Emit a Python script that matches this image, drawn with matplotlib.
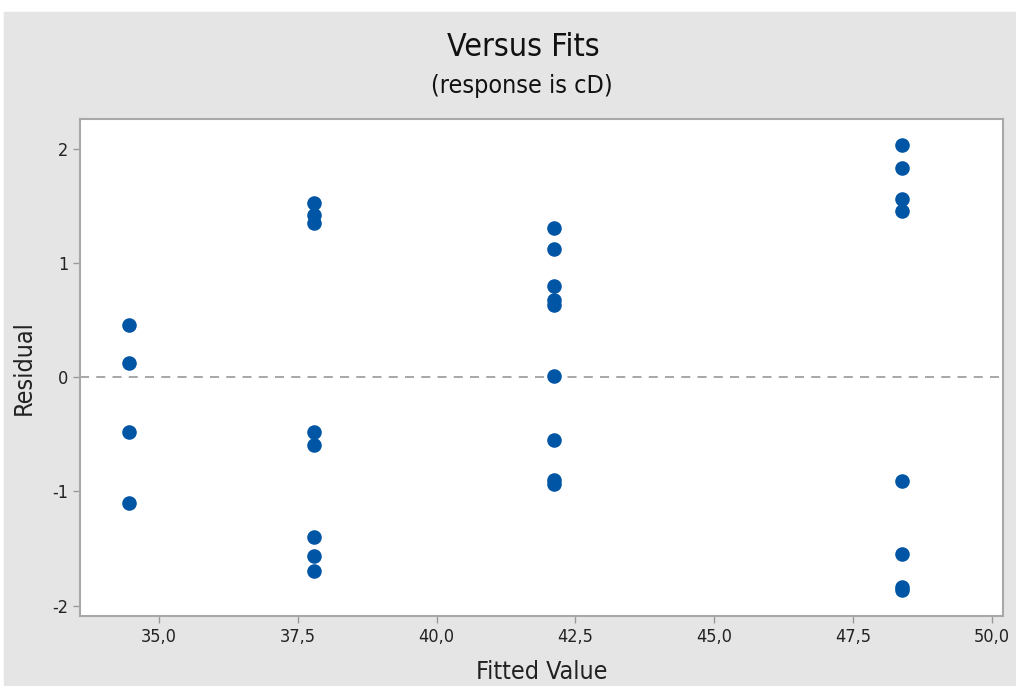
import matplotlib.pyplot as plt
import matplotlib.patches as patches
import numpy as np
from matplotlib.ticker import FuncFormatter

plt.rcParams['font.family'] = ['DejaVu Sans']
plt.rcParams['font.stretch'] = 'condensed'
plt.rcParams['axes.unicode_minus'] = False

# fitted values and residuals
fits_1 = [34.46, 34.46, 34.46, 34.46]
res_1 = [0.455, 0.125, -0.478, -1.105]
fits_2 = [37.79] * 8
res_2 = [1.528, 1.42, 1.353, -0.478, -0.595, -1.397, -1.563, -1.697]
fits_3 = [42.12] * 9
res_3 = [1.31, 1.126, 0.80, 0.68, 0.635, 0.01, -0.55, -0.90, -0.935]
fits_4 = [48.38] * 8
res_4 = [2.03, 1.83, 1.557, 1.455, -0.907, -1.543, -1.835, -1.865]

fits = np.array(fits_1 + fits_2 + fits_3 + fits_4)
resid = np.array(res_1 + res_2 + res_3 + res_4)

xticks = [35.0, 37.5, 40.0, 42.5, 45.0, 47.5, 50.0]
yticks = [-2, -1, 0, 1, 2]

fig = plt.figure(figsize=(10.16, 6.86), dpi=100, facecolor='white')
# grey panel (the screenshot has a thin white margin top/left)
fig.patches.append(patches.Rectangle((4/1016, 0), 1, 1 - 12/686,
                   transform=fig.transFigure, color='#e5e5e5', zorder=-10))

ax = fig.add_axes([80/1016, 1 - 616/686, 923/1016, 497/686])
ax.set_facecolor('white')
ax.scatter(fits, resid, s=110, color='#0055a5', zorder=3, linewidths=0)
ax.axhline(0, color='#a0a0a0', linestyle=(0, (5, 4)), linewidth=1.3, zorder=2)

ax.set_xlim(33.58, 50.2)
ax.set_ylim(-2.09, 2.26)
ax.set_xticks(xticks)
ax.set_yticks(yticks)
ax.xaxis.set_major_formatter(FuncFormatter(lambda v, p: ('%.1f' % v).replace('.', ',')))
ax.tick_params(colors='#999999', labelcolor='#222222', labelsize=13, length=5, width=1)
for s in ax.spines.values():
    s.set_color('#a8a8a8')
    s.set_linewidth(1.5)

ax.set_xlabel('Fitted Value', fontsize=18, color='#222222', labelpad=10)
ax.set_ylabel('Residual', fontsize=18, color='#222222', labelpad=12)

fig.text(523/1016, 1 - 48/686, 'Versus Fits', ha='center', va='center', fontsize=23, color='#111111')
fig.text(522/1016, 1 - 86/686, '(response is cD)', ha='center', va='center', fontsize=18, color='#111111')

fig.savefig('out.png', dpi=100, facecolor=fig.get_facecolor())
